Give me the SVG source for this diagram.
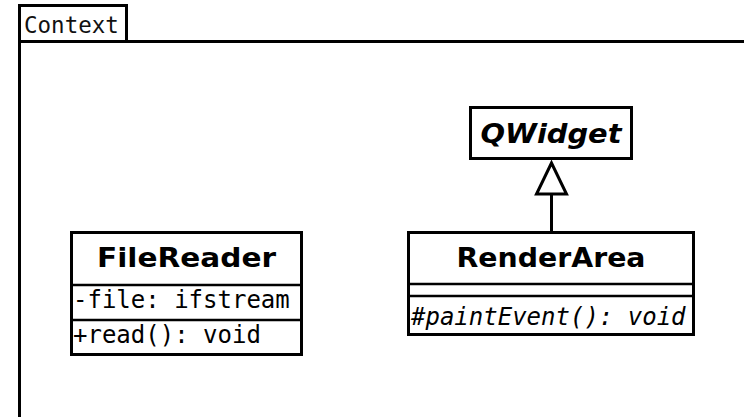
<svg xmlns="http://www.w3.org/2000/svg" width="744" height="417" viewBox="0 0 744 417">
  <style>
    .box { fill: #ffffff; stroke: #000000; stroke-width: 3; }
    .sep { stroke: #000000; stroke-width: 2.5; }
    .name { font-family: "DejaVu Sans", sans-serif; font-weight: bold; font-size: 27px; fill: #000000; }
    .abstract { font-style: italic; }
    .member { font-family: "DejaVu Sans Mono", monospace; font-size: 24px; fill: #000000; }
    .frame { fill: none; stroke: #000000; stroke-width: 3; }
    .edge { fill: none; stroke: #000000; stroke-width: 3; }
  </style>

  <rect width="744" height="417" fill="#ffffff"/>

  <!-- package frame -->
  <g id="context">
    <rect class="box" x="19.5" y="5.5" width="107" height="36"/>
    <path class="frame" d="M19.5 430 V41.5 H760"/>
    <text x="24" y="33" font-family="DejaVu Sans Mono, monospace" font-size="22.5px" fill="#111111">Context</text>
  </g>

  <g id="connectors">
    <line class="edge" x1="551.5" y1="194" x2="551.5" y2="232"/>
    <polygon class="edge" fill="#ffffff" points="551.5,163 536.5,194 566.5,194"/>
  </g>

  <g id="QWidget">
    <rect class="box" x="470.5" y="107.5" width="161" height="51"/>
    <text class="name abstract" x="551" y="143" text-anchor="middle" textLength="141" lengthAdjust="spacingAndGlyphs">QWidget</text>
  </g>

  <g id="FileReader">
    <rect class="box" x="71.5" y="232.5" width="230" height="122"/>
    <line class="sep" x1="71.5" y1="285" x2="301.5" y2="285"/>
    <line class="sep" x1="71.5" y1="320" x2="301.5" y2="320"/>
    <text class="name" x="186.5" y="267" text-anchor="middle" textLength="179" lengthAdjust="spacingAndGlyphs">FileReader</text>
    <text class="member" x="73" y="308">-file: ifstream</text>
    <text class="member" x="73" y="343">+read(): void</text>
  </g>

  <g id="RenderArea">
    <rect class="box" x="408.5" y="232.5" width="285" height="102"/>
    <line class="sep" x1="408.5" y1="284" x2="693.5" y2="284"/>
    <line class="sep" x1="408.5" y1="296" x2="693.5" y2="296"/>
    <text class="name" x="551" y="267" text-anchor="middle" textLength="189" lengthAdjust="spacingAndGlyphs">RenderArea</text>
    <text class="member" x="411" y="325" font-style="italic">#paintEvent(): void</text>
  </g>
</svg>
